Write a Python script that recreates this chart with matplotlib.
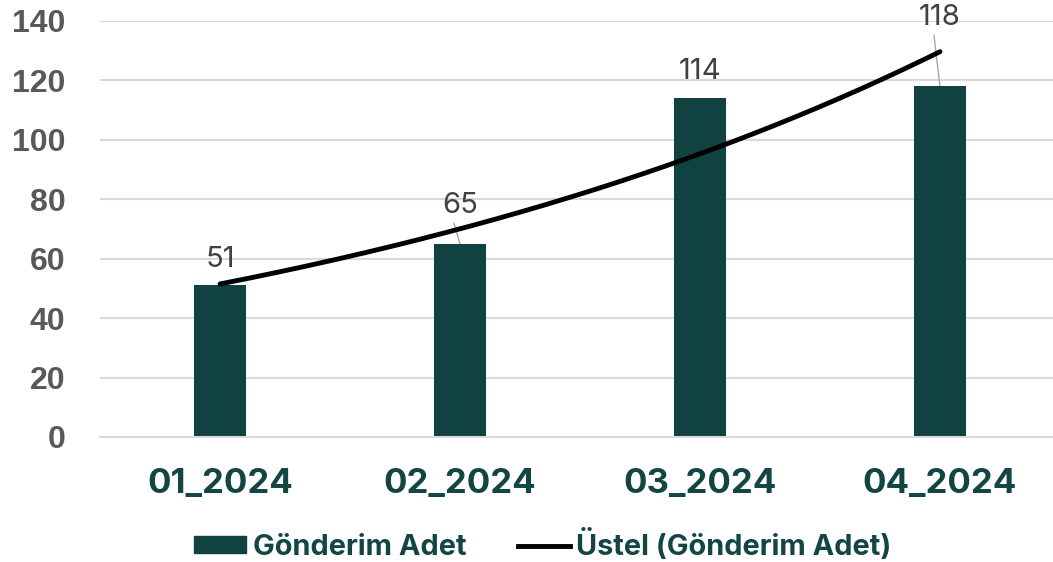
import matplotlib.pyplot as plt
import numpy as np
from matplotlib.lines import Line2D
from matplotlib.patches import Patch

categories = ["01_2024", "02_2024", "03_2024", "04_2024"]
values = [51, 65, 114, 118]
label_offsets = [6.2, 10.4, 6.5, 20.7]  # baseline of value label above bar top
leader = [False, True, False, True]

bar_color = "#0f4241"
text_green = "#134545"

fig = plt.figure(figsize=(10.53, 5.62), dpi=100)
ax = fig.add_axes([100 / 1053, 1 - 437 / 562, 960 / 1053, 416 / 562])

x = np.arange(len(categories))
ax.bar(x, values, width=0.22, color=bar_color, zorder=2)

# exponential trendline (least squares on log values)
b, a = np.polyfit(x, np.log(values), 1)
xs = np.linspace(0, len(categories) - 1, 200)
ax.plot(xs, np.exp(a + b * xs), color="black", lw=3.5, solid_capstyle="round", zorder=3)

for i, v in enumerate(values):
    ty = v + label_offsets[i]
    ax.text(i, ty, str(v), ha="center", va="baseline", fontsize=21,
            family="Inter", color="#404040", zorder=4)
    if leader[i]:
        ax.plot([i - 0.025, i], [ty - 3.5, v], color="#a6a6a6", lw=1, zorder=1)

ax.set_xlim(-0.5, 3.5)
ax.set_ylim(0, 140)
ax.set_yticks(range(0, 141, 20))
ax.yaxis.grid(True, color="#d9d9d9", lw=1.5, zorder=0)
ax.set_axisbelow(True)
for s in ["top", "right", "left"]:
    ax.spines[s].set_visible(False)
ax.spines["bottom"].set_color("#d9d9d9")
ax.spines["bottom"].set_linewidth(1.5)
ax.tick_params(length=0)
ax.set_xticks(x)
ax.set_xticklabels(categories, fontsize=25, family="Inter", fontweight="bold", color=text_green)
ax.tick_params(axis="x", pad=22)
ax.tick_params(axis="y", pad=25)
for t in ax.get_yticklabels():
    t.set_fontsize(23)
    t.set_family("Liberation Sans")
    t.set_fontweight("bold")
    t.set_color("#595959")

handles = [Patch(color=bar_color), Line2D([0], [0], color="black", lw=3.5)]
leg = fig.legend(handles, ["Gönderim Adet", "Üstel (Gönderim Adet)"], loc="center",
                 bbox_to_anchor=(543 / 1053, 1 - 545 / 562), ncol=2, frameon=False,
                 prop={"family": "Inter", "weight": "bold", "size": 20.8},
                 handlelength=1.8, handleheight=0.55, handletextpad=0.21,
                 columnspacing=1.8, borderpad=0, borderaxespad=0)
for t in leg.get_texts():
    t.set_color(text_green)

fig.savefig("out.png", dpi=100)
